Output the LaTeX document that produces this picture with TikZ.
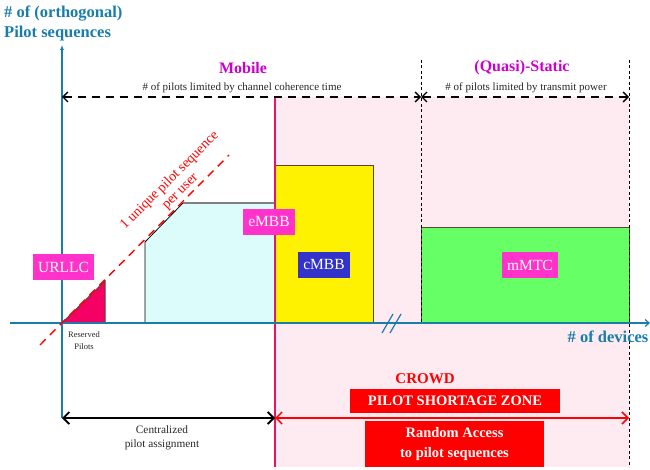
\documentclass[tikz,border=0pt]{standalone}
\usepackage{fontspec}
\setmainfont{Liberation Serif}
\usetikzlibrary{arrows.meta}
\definecolor{axisc}{RGB}{25,125,170}
\definecolor{magc}{RGB}{204,0,204}
\definecolor{pinkbg}{RGB}{253,235,241}
\definecolor{labc}{RGB}{255,51,204}
\definecolor{cyanf}{RGB}{220,252,252}
\definecolor{greenf}{RGB}{102,255,102}
\definecolor{bluel}{RGB}{51,51,204}
\definecolor{urllcc}{RGB}{245,0,100}
\definecolor{zonec}{RGB}{235,20,100}
\definecolor{brownc}{RGB}{90,70,50}
\tikzset{
  mytip/.tip={Straight Barb[length=5pt,width=10pt]},
  mybig/.tip={Straight Barb[length=6pt,width=12pt]}
}
\begin{document}
\begin{tikzpicture}[x=1pt,y=-1pt,
  lab/.style={fill=labc, text=white, font=\fontsize{15.5}{16}\selectfont, minimum height=26pt, inner xsep=5pt, inner ysep=0pt},
  redbox/.style={fill=red, text=white, font=\bfseries\fontsize{14.5}{20}\selectfont, align=center, inner sep=0pt},
  small/.style={font=\fontsize{11}{13}\selectfont, text=black!85},
  axtitle/.style={text=axisc, font=\bfseries\fontsize{16.5}{20}\selectfont},
  regtitle/.style={text=magc, font=\bfseries\fontsize{16}{18}\selectfont}
]
\useasboundingbox (0,0) rectangle (650,470);

% pink crowd zone
\fill[pinkbg] (275,97) rectangle (629,467);

% eMBB region
\fill[cyanf] (145,323) -- (145,242) -- (183,203) -- (275,203) -- (275,323) -- cycle;
\draw[black, line width=0.8pt] (145,323) -- (145,242) -- (183,203);
\draw[gray, line width=1.2pt] (183,203) -- (275,203);

% cMBB yellow block
\draw[fill=yellow, draw=brownc, line width=1pt] (275,166) rectangle (373,323);

% mMTC green block
\draw[fill=greenf, draw=brownc, line width=1pt] (421,228) rectangle (629,323);

% URLLC triangle
\draw[fill=urllcc, draw=brownc, line width=1pt] (62,323) -- (105,281) -- (105,323) -- cycle;

% vertical dashed separators
\coordinate (qs1) at (421,60);
\coordinate (qs1b) at (421,323);
\coordinate (qs2) at (629,60);
\coordinate (qs2b) at (629,467);
\draw[black, line width=0.8pt, dash pattern=on 3pt off 2.5pt] (qs1) -- (qs1b);
\draw[black, line width=0.8pt, dash pattern=on 3pt off 2.5pt] (qs2) -- (qs2b);

% magenta boundary
\coordinate (zt) at (275,97);
\coordinate (zb) at (275,467);
\draw[zonec, line width=1.4pt] (zt) -- (zb);

% axes
\coordinate (xa0) at (10,323);
\coordinate (xa1) at (650,323);
\coordinate (ya0) at (62,418);
\coordinate (ya1) at (62,45);
\draw[axisc, line width=1.2pt, -{Straight Barb[length=4pt,width=7pt]}] (xa0) -- (xa1);
\draw[axisc, line width=1.2pt, -{Latex[length=5pt,width=4pt]}] (ya0) -- (ya1);

% axis break marks
\draw[axisc, line width=1.2pt] (382,333) -- (393,314);
\draw[axisc, line width=1.2pt] (390,333) -- (401,314);

% diagonal red dashed line
\coordinate (d0) at (40,345);
\coordinate (d1) at (229,155);
\draw[red, line width=1.4pt, dash pattern=on 8pt off 6pt] (d0) -- (d1);
\node[red, rotate=45, font=\fontsize{14}{15}\selectfont, align=center] (uniq) at (175,186) {1 unique pilot sequence\\per user};

% dashed arrows top
\coordinate (t0) at (62,97);
\coordinate (t1) at (421,97);
\coordinate (t2) at (629,97);
\draw[black, line width=1.4pt, dash pattern=on 8pt off 6pt, {mytip}-{mytip}] (t0) -- (t1);
\draw[black, line width=1.4pt, dash pattern=on 8pt off 6pt, {mytip}-{mytip}] (t1) -- (t2);

% titles
\node[axtitle, anchor=west, inner sep=0pt] (ytitle) at (4,14) {\# of (orthogonal)};
\node[axtitle, anchor=west, inner sep=0pt] (ytitle2) at (4,34) {Pilot sequences};
\node[axtitle, anchor=center, inner sep=0pt] (xtitle) at (608,337) {\# of devices};
\node[regtitle] (mobile) at (243,68) {Mobile};
\node[regtitle] (quasi) at (522,68) {(Quasi)-Static};
\node[small] (coh) at (242,88) {\# of pilots limited by channel coherence time};
\node[small] (pow) at (526,88) {\# of pilots limited by transmit power};

% labels
\node[lab] (urllc) at (63.5,267) {URLLC};
\node[lab] (embb) at (269,222) {eMBB};
\node[lab, fill=bluel] (cmbb) at (324,265) {cMBB};
\node[lab] (mmtc) at (530,265) {mMTC};

\node[small, font=\fontsize{8.5}{12}\selectfont, align=center] (res) at (84,341) {Reserved\\Pilots};

% bottom arrows
\coordinate (b0) at (62,418);
\coordinate (b1) at (275,418);
\coordinate (b2) at (629,418);
\draw[black, line width=1.9pt, {mybig}-{mybig}] (b0) -- (b1);
\draw[red, line width=1.5pt, {mybig}-{mybig}] (b1) -- (b2);
\node[small, font=\fontsize{11.3}{14}\selectfont, align=center] (cent) at (162,438) {Centralized\\pilot assignment};

\node[red, font=\bfseries\fontsize{15}{17}\selectfont] (crowd) at (425,379) {CROWD};
\node[redbox, minimum width=210pt, minimum height=24pt] (psz) at (455,401) {PILOT SHORTAGE ZONE};
\node[redbox, minimum width=179pt, minimum height=46pt] (ra) at (454.5,444) {Random Access\\to pilot sequences};
\end{tikzpicture}
\end{document}
